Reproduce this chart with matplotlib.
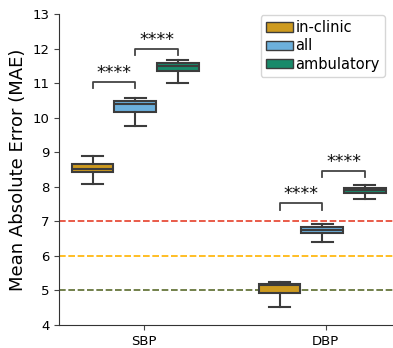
import matplotlib
matplotlib.use('Agg')
import matplotlib.pyplot as plt
from matplotlib.patches import Patch

plt.rcParams['font.family'] = ['DejaVu Sans']

# data
groups = ['SBP', 'DBP']
hues = ['in-clinic', 'all', 'ambulatory']
colors = ['#cd9a1f', '#6cb0dc', '#188a6a']

whislo = {'SBP': [8.07, 9.75, 11.00], 'DBP': [4.51, 6.41, 7.65]}
q1 = {'SBP': [8.42, 10.17, 11.34], 'DBP': [4.92, 6.65, 7.83]}
med = {'SBP': [8.51, 10.39, 11.49], 'DBP': [5.16, 6.75, 7.90]}
q3 = {'SBP': [8.67, 10.49, 11.59], 'DBP': [5.20, 6.85, 7.97]}
whishi = {'SBP': [8.90, 10.56, 11.66], 'DBP': [5.25, 6.91, 8.04]}

# significance brackets: (group, hue a, hue b, height, label)
brackets = [
    ('SBP', 0, 1, 11.03, '****'),
    ('SBP', 1, 2, 12.00, '****'),
    ('DBP', 0, 1, 7.52, '****'),
    ('DBP', 1, 2, 8.46, '****'),
]

ref_lines = [7, 6, 5]
ref_colors = ['#e5402a', '#ffb300', '#5a6b2c']

box_w = 0.235
group_shift = [-0.05, -0.02]

fig = plt.figure(figsize=(3.93, 3.48), dpi=100)
ax = fig.add_axes([59 / 393, 1 - 325 / 348, 1 - 59 / 393, (325 - 14) / 348])

for y, c in zip(ref_lines, ref_colors):
    ax.axhline(y, color=c, ls=(0, (4, 1.6)), lw=1.2, zorder=1)

edge = '#3c3c3c'
pos = {}
for gi, g in enumerate(groups):
    for hi, h in enumerate(hues):
        x = gi + group_shift[gi] + (hi - 1) * box_w
        pos[(g, hi)] = x
        st = [dict(whislo=whislo[g][hi], q1=q1[g][hi], med=med[g][hi],
                   q3=q3[g][hi], whishi=whishi[g][hi], fliers=[])]
        ax.bxp(st, positions=[x], widths=box_w * 0.98, patch_artist=True,
               manage_ticks=False, showfliers=False,
               boxprops=dict(facecolor=colors[hi], edgecolor=edge, lw=1.5),
               whiskerprops=dict(color=edge, lw=1.5),
               capprops=dict(color=edge, lw=1.5),
               medianprops=dict(color=edge, lw=1.5), zorder=3)

for g, a, b, hgt, lab in brackets:
    xa, xb = pos[(g, a)], pos[(g, b)]
    ax.plot([xa, xa, xb, xb], [hgt - 0.18, hgt, hgt, hgt - 0.18],
            color='#444444', lw=1.3, zorder=4)
    ax.text((xa + xb) / 2, hgt + 0.0, lab, ha='center', va='bottom',
            fontsize=12.5, color='#111111')

ax.set_xlim(-0.47, 1.37)
ax.set_ylim(4, 13)
ax.set_xticks(range(len(groups)))
ax.set_xticklabels(groups)
ax.set_yticks(range(4, 14))
ax.tick_params(labelsize=9.5, color='#444444', length=3.5)
ax.set_ylabel('Mean Absolute Error (MAE)', fontsize=13)
for s in ['top', 'right']:
    ax.spines[s].set_visible(False)
for s in ['left', 'bottom']:
    ax.spines[s].set_color('#333333')

handles = [Patch(facecolor=c, edgecolor=edge, lw=1.0) for c in colors]
ax.legend(handles, hues, loc='upper right', bbox_to_anchor=(385 / 393, 1 - 15 / 348),
          bbox_transform=fig.transFigure, borderaxespad=0, fontsize=10.5,
          handlelength=1.9, handleheight=0.6, handletextpad=0.15,
          labelspacing=0.22, borderpad=0.35, frameon=True, fancybox=True)

fig.savefig('out.png', dpi=100)
